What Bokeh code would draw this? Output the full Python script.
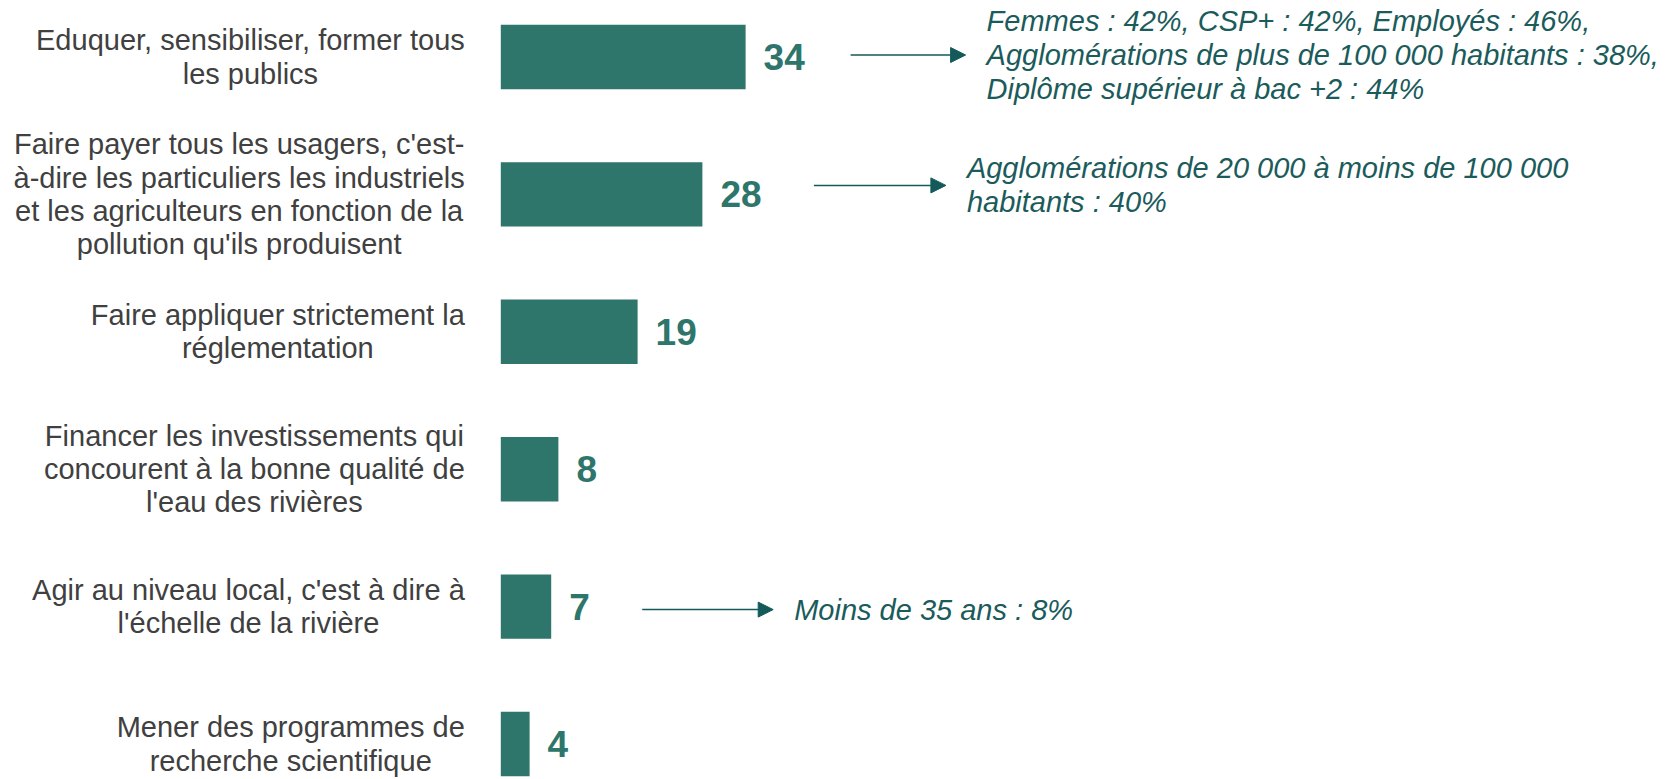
from bokeh.plotting import figure
from bokeh.models import ColumnDataSource, Range1d, Arrow, NormalHead
from bokeh.core.properties import value
from bokeh.embed import file_html
from bokeh.resources import INLINE

# ---------------- data ----------------
categories = [
    "Eduquer, sensibiliser, former tous\nles publics",
    "Faire payer tous les usagers, c'est-\nà-dire les particuliers les industriels\net les agriculteurs en fonction de la\npollution qu'ils produisent",
    "Faire appliquer strictement la\nréglementation",
    "Financer les investissements qui\nconcourent à la bonne qualité de\nl'eau des rivières",
    "Agir au niveau local, c'est à dire à\nl'échelle de la rivière",
    "Mener des programmes de\nrecherche scientifique",
]
scores = [34, 28, 19, 8, 7, 4]

annot_index = [0, 1, 4]
annot_texts = [
    "Femmes : 42%, CSP+ : 42%, Employés : 46%,\nAgglomérations de plus de 100 000 habitants : 38%,\nDiplôme supérieur à bac +2 : 44%",
    "Agglomérations de 20 000 à moins de 100 000\nhabitants : 40%",
    "Moins de 35 ans : 8%",
]

# ---------------- layout / style ----------------
W, H = 1670, 778
PX_X = 7.2          # pixels per percentage point
BAR_LEFT_PX = 500.3
PX_Y = 137.4        # pixels between bar rows
TOP_PX = 56.5       # centre of first bar from top
BAR_H_PX = 64.4

BAR_COLOR = "#2e756b"
LABEL_COLOR = "#404040"
ANNOT_COLOR = "#1b5b5b"
ARROW_COLOR = "#155a5a"
FONT = "Liberation Sans"

# arrow layout (pixels): start after bar end, length, vertical shift
arrow_start_px = [105, 111.5, 91]
arrow_len_px = [115, 132, 131]
arrow_dy_px = [-2, -9, 3]
TEXT_GAP_PX = 21

x0 = -BAR_LEFT_PX / PX_X
y_top = -TOP_PX / PX_Y

p = figure(
    width=W, height=H,
    x_range=Range1d(x0, x0 + W / PX_X),
    y_range=Range1d(y_top + H / PX_Y, y_top),
    x_axis_type=None, y_axis_type=None,
    output_backend="svg", toolbar_location=None,
    min_border=0, min_border_left=0, min_border_right=0,
    min_border_top=0, min_border_bottom=0,
)
p.outline_line_color = None
p.xgrid.visible = False
p.ygrid.visible = False
p.background_fill_color = "white"
p.border_fill_color = "white"

ypos = list(range(len(categories)))
src = ColumnDataSource(dict(y=ypos, v=scores, cat=categories,
                            lab=[str(s) for s in scores], zero=[0] * len(scores)))

p.hbar(y="y", left=0, right="v", height=BAR_H_PX / PX_Y, source=src,
       fill_color=BAR_COLOR, line_color=None)

# value labels
p.text(x="v", y="y", text="lab", source=src, x_offset=18,
       text_align="left", text_baseline="middle",
       text_font=value(FONT), text_font_style="bold",
       text_font_size="37px", text_color=BAR_COLOR)

# category labels
p.text(x="zero", y="y", text="cat", source=src, x_offset=-36,
       text_align="center", text_baseline="middle", anchor="center_right",
       text_font=value(FONT), text_font_size="29px",
       text_line_height=1.04, text_color=LABEL_COLOR)

# annotations with arrows
xs, xe, ya, tx = [], [], [], []
for k, i in enumerate(annot_index):
    v = scores[i]
    s = v + arrow_start_px[k] / PX_X
    e = v + (arrow_start_px[k] + arrow_len_px[k]) / PX_X
    y = i + arrow_dy_px[k] / PX_Y
    xs.append(s); xe.append(e); ya.append(y)
    tx.append(e + TEXT_GAP_PX / PX_X)

asrc = ColumnDataSource(dict(x_start=xs, x_end=xe, y=ya))
p.add_layout(Arrow(x_start="x_start", y_start="y", x_end="x_end", y_end="y",
                   source=asrc, line_color=ARROW_COLOR, line_width=1.5,
                   end=NormalHead(size=15, fill_color=ARROW_COLOR,
                                  line_color=ARROW_COLOR, line_width=1)))

tsrc = ColumnDataSource(dict(x=tx, y=ya, t=annot_texts))
p.text(x="x", y="y", text="t", source=tsrc,
       text_align="left", text_baseline="middle", anchor="center_left",
       text_font=value(FONT), text_font_style="italic",
       text_font_size="29px", text_line_height=1.06, text_color=ANNOT_COLOR)

open("out.html", "w").write(file_html(p, INLINE))
